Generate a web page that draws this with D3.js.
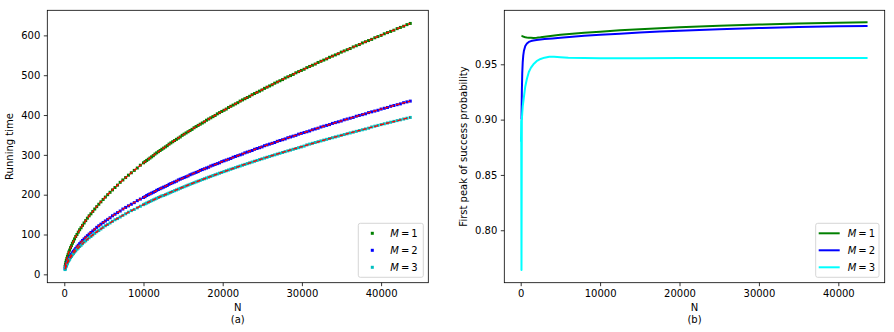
<!DOCTYPE html>
<html><head><meta charset="utf-8">
<script src="https://cdn.jsdelivr.net/npm/d3@7"></script>
<style>
html,body{margin:0;padding:0;background:#fff;}
svg{display:block;}
</style></head><body>
<svg id="chart" width="894" height="332"></svg>
<script>
// ---------- Panel (a): running time ----------
const runN = [100,144,196,256,324,400,484,576,676,784,900,1024,1156,1296,1444,1600,1764,1936,2116,2304,2500,2704,2916,3136,3364,3600,3844,4096,4356,4624,4900,5184,5476,5776,6084,6400,6724,7056,7396,7744,8100,8464,8836,9216,9604,
10000,10201,10404,10609,10816,11025,11236,11449,11664,11881,12100,12321,12544,12769,12996,13225,13456,13689,13924,14161,14400,14641,14884,15129,15376,15625,15876,16129,16384,16641,16900,17161,17424,17689,17956,18225,18496,18769,19044,19321,19600,19881,20164,20449,20736,21025,21316,21609,21904,22201,22500,22801,23104,23409,23716,24025,24336,24649,24964,25281,25600,25921,26244,26569,26896,27225,27556,27889,28224,28561,28900,29241,29584,29929,30276,30625,30976,31329,31684,32041,32400,32761,33124,33489,33856,34225,34596,34969,35344,35721,36100,36481,36864,37249,37636,38025,38416,38809,39204,39601,40000,40401,40804,41209,41616,42025,42436,42849,43264,43681];
const runM1 = [20,25,30,35,40,45,50,56,61,67,72,78,83,89,95,100,106,112,117,123,129,135,141,147,152,158,164,170,176,182,188,194,200,206,212,218,224,231,237,243,249,255,261,267,274,
280,283,286,289,292,295,298,302,305,308,311,314,317,320,323,327,330,333,336,339,342,345,349,352,355,358,361,364,368,371,374,377,380,383,387,390,393,396,399,403,406,409,412,415,419,422,425,428,431,435,438,441,444,447,451,454,457,460,463,467,470,473,476,480,483,486,489,493,496,499,502,506,509,512,515,519,522,525,528,532,535,538,541,545,548,551,554,558,561,564,567,571,574,577,581,584,587,590,594,597,600,604,607,610,613,617,620,623,627,630];
const runM2 = [14,17,20,24,28,31,35,39,42,46,50,54,58,61,65,69,73,77,81,85,89,93,97,101,105,109,113,118,122,126,130,134,138,142,147,151,155,159,164,168,172,176,180,185,189,
193,195,198,200,202,204,206,208,211,213,215,217,219,221,223,226,228,230,232,234,237,239,241,243,245,247,250,252,254,256,258,261,263,265,267,269,272,274,276,278,280,283,285,287,289,291,294,296,298,300,302,305,307,309,311,314,316,318,320,323,325,327,329,331,334,336,338,340,343,345,347,349,352,354,356,358,360,363,365,367,370,372,374,376,379,381,383,385,388,390,392,394,397,399,401,403,406,408,410,412,415,417,419,422,424,426,428,431,433,435];
const runM3 = [12,15,19,22,25,28,32,35,38,42,45,49,52,56,59,63,66,70,73,77,81,84,88,92,95,99,103,107,110,114,118,122,125,129,133,137,140,144,148,152,156,160,163,167,171,
175,177,179,181,183,185,187,189,191,193,195,197,198,200,202,204,206,208,210,212,214,216,218,220,222,224,226,228,230,232,234,236,238,240,242,244,246,248,250,252,254,256,258,260,262,264,266,268,270,272,274,276,278,280,282,284,286,288,290,292,294,296,298,300,302,304,306,308,310,312,314,316,318,320,322,325,327,329,331,333,335,337,339,341,343,345,347,349,351,353,355,357,359,361,363,365,367,370,372,374,376,378,380,382,384,386,388,390,392,394];
const fitN  = [100,400,900,1600,2500,3600,4900,6400,8100,10000,12100,14400,16900,19600,22500,25600,28900,32400,36100,40000,43681];
const fitM1 = [19.8,45.1,72.1,100.1,129.0,158.3,188.1,218.3,248.9,279.8,311.0,342.3,374.0,405.8,437.8,470.0,502.3,534.9,567.5,600.3,629.9];
const fitM2 = [13.7,31.2,49.8,69.2,89.1,109.4,129.9,150.8,172.0,193.3,214.9,236.5,258.4,280.3,302.4,324.7,347.0,369.5,392.1,414.8,435.2];
const fitM3 = [12.4,28.2,45.1,62.7,80.7,99.1,117.7,136.6,155.8,175.1,194.6,214.2,234.0,253.9,274.0,294.2,314.3,334.7,355.1,375.7,394.2];

// ---------- Panel (b): first peak of success probability ----------
const probN = [100,144,196,256,324,400,576,784,1024,1296,1600,2000,2500,3000,4000,5000,6500,8000,10000,12500,15000,17500,20000,25000,30000,35000,40000,43681];
const probM1 = [0.9758,0.9757,0.9755,0.9753,0.9751,0.9749,0.9745,0.9742,0.9740,0.9739,0.9738,0.9740,0.9744,0.9749,0.9758,0.9766,0.9776,0.9785,0.9795,0.9807,0.9817,0.9826,0.9834,0.9848,0.9859,0.9868,0.9875,0.9880];
const probM2 = [0.900,0.925,0.942,0.952,0.958,0.962,0.9665,0.9688,0.9702,0.9710,0.9715,0.9720,0.9724,0.9728,0.9734,0.9740,0.9749,0.9757,0.9766,0.9777,0.9787,0.9796,0.9803,0.9816,0.9827,0.9836,0.9843,0.9847];
const probN3 = [36,64,100,144,196,256,400,576,784,1024,1296,1600,2000,2500,3000,3600,4200,5000,6000,8000,10000,15000,20000,30000,43681];
const probM3 = [0.880,0.899,0.764,0.900,0.906,0.912,0.920,0.930,0.937,0.943,0.947,0.950,0.9528,0.9548,0.9560,0.9568,0.9568,0.9564,0.9560,0.9557,0.9555,0.9555,0.9556,0.9557,0.9558];

const xTicks = [0,10000,20000,30000,40000];
const runTicks = [0,100,200,300,400,500,600];
const probTicks = [0.80,0.85,0.90,0.95];
const legendLabels = ["1","2","3"];

const FONT = "DejaVu Sans, sans-serif";
const svg = d3.select("#chart");
const MS = 3; // marker side

function panel(box, xDom, yDom, yFmt, yTicks, xlab, sub, ylab, ylabX, id) {
  const x = d3.scaleLinear().domain(xDom).range([box.x0, box.x1]);
  const y = d3.scaleLinear().domain(yDom).range([box.y1, box.y0]);
  svg.append("clipPath").attr("id", id).append("rect")
    .attr("x", box.x0).attr("y", box.y0).attr("width", box.x1 - box.x0).attr("height", box.y1 - box.y0);
  const plot = svg.append("g").attr("clip-path", `url(#${id})`);
  const ax = svg.append("g").attr("transform", `translate(0,${box.y1})`)
    .call(d3.axisBottom(x).tickValues(xTicks).tickFormat(d3.format("d")).tickSize(3.5).tickPadding(3.5));
  const ay = svg.append("g").attr("transform", `translate(${box.x0},0)`)
    .call(d3.axisLeft(y).tickValues(yTicks).tickFormat(yFmt).tickSize(3.5).tickPadding(3.5));
  [ax, ay].forEach(a => {
    a.select(".domain").remove();
    a.attr("font-family", FONT).attr("font-size", 10);
    a.selectAll("line").attr("stroke", "#000").attr("stroke-width", 0.8);
    a.selectAll("text").attr("fill", "#000");
  });
  const cx = (box.x0 + box.x1) / 2;
  svg.append("text").attr("x", cx).attr("y", 310.5).attr("text-anchor", "middle")
    .attr("font-family", FONT).attr("font-size", 10).text(xlab);
  svg.append("text").attr("x", cx).attr("y", 322.5).attr("text-anchor", "middle")
    .attr("font-family", FONT).attr("font-size", 10).text(sub);
  svg.append("text").attr("transform", `translate(${ylabX},${(box.y0 + box.y1) / 2}) rotate(-90)`)
    .attr("text-anchor", "middle").attr("font-family", FONT).attr("font-size", 10).text(ylab);
  return {x, y, plot};
}

function frame(box) {
  svg.append("rect").attr("x", box.x0).attr("y", box.y0)
    .attr("width", box.x1 - box.x0).attr("height", box.y1 - box.y0)
    .attr("fill", "none").attr("stroke", "#000").attr("stroke-width", 0.8);
}

function legend(lx, ly, w, h, colors, kind) {
  const g = svg.append("g");
  g.append("rect").attr("x", lx).attr("y", ly).attr("width", w).attr("height", h)
    .attr("rx", 2).attr("fill", "#fff").attr("fill-opacity", 0.8)
    .attr("stroke", "#cccccc").attr("stroke-width", 0.8);
  legendLabels.forEach((lab, i) => {
    const cy = ly + 10 + i * 17;
    if (kind === "marker") {
      g.append("rect").attr("x", lx + 14 - MS / 2).attr("y", cy - MS / 2).attr("width", MS).attr("height", MS).attr("fill", colors[i]);
    } else {
      g.append("line").attr("x1", lx + 3).attr("x2", lx + 24).attr("y1", cy).attr("y2", cy)
        .attr("stroke", colors[i]).attr("stroke-width", 2);
    }
    const t = g.append("text").attr("x", lx + 32).attr("y", cy + 3.6)
      .attr("font-family", FONT).attr("font-size", 10);
    t.append("tspan").attr("font-style", "italic").text("M");
    t.append("tspan").text("\u2009=\u2009" + lab);
  });
}

// ----- Panel (a)
const boxA = {x0: 47.3, x1: 428.3, y0: 10.3, y1: 282.7};
const A = panel(boxA, [-2146, 45960], [-21, 663], d3.format("d"), runTicks, "N", "(a)", "Running time", 13.3, "clipA");
const colA = ["#008000", "#0000ff", "#00bfbf"];
const runSeries = [runM1, runM2, runM3];
const fitSeries = [fitM1, fitM2, fitM3];
const fitLine = d3.line().x(d => A.x(d[0])).y(d => A.y(d[1])).curve(d3.curveMonotoneX);
runSeries.forEach((vals, k) => {
  A.plot.append("g").selectAll("rect").data(runN.map((n, i) => [n, vals[i]])).join("rect")
    .attr("x", d => A.x(d[0]) - MS / 2).attr("y", d => A.y(d[1]) - MS / 2)
    .attr("width", MS).attr("height", MS).attr("fill", colA[k]);
});
fitSeries.forEach(vals => {
  A.plot.append("path").datum(fitN.map((n, i) => [n, vals[i]])).attr("d", fitLine)
    .attr("fill", "none").attr("stroke", "#ff0000").attr("stroke-width", 1.3)
    .attr("stroke-dasharray", "4,2");
});
frame(boxA);
legend(358.3, 223.3, 65, 54, colA, "marker");

// ----- Panel (b)
const boxB = {x0: 504.3, x1: 884.7, y0: 10.3, y1: 282.7};
const B = panel(boxB, [-2065, 45840], [0.7526, 0.9988], d3.format(".2f"), probTicks, "N", "(b)", "First peak of success probability", 466.6, "clipB");
const colB = ["#008000", "#0000ff", "#00ffff"];
const probLine = d3.line().x(d => B.x(d[0])).y(d => B.y(d[1]));
[[probN, probM1], [probN, probM2], [probN3, probM3]].forEach(([ns, vals], k) => {
  B.plot.append("path").datum(ns.map((n, i) => [n, vals[i]])).attr("d", probLine)
    .attr("fill", "none").attr("stroke", colB[k]).attr("stroke-width", 2)
    .attr("stroke-linejoin", "round").attr("stroke-linecap", "butt");
});
frame(boxB);
legend(815.7, 223.3, 63.3, 54, colB, "line");
</script>
</body></html>
